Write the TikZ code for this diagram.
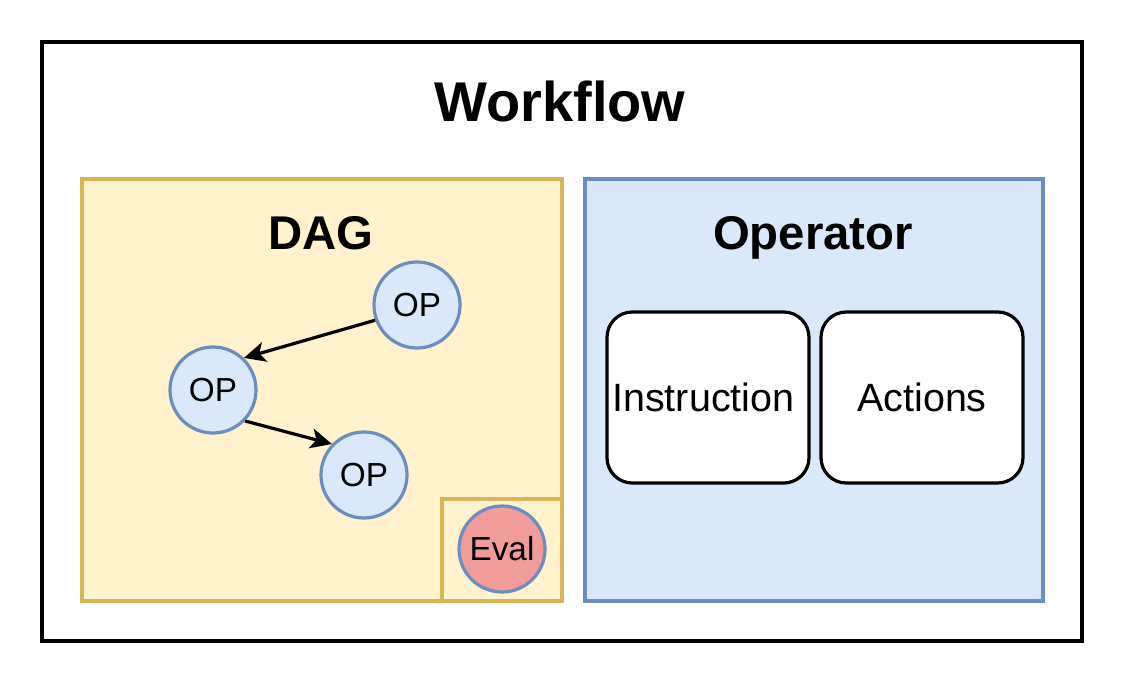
\documentclass[tikz,border=0pt]{standalone}
\usepackage{fontspec}
\setmainfont{Liberation Sans}
\usetikzlibrary{arrows.meta}
\definecolor{dagfill}{HTML}{FFF2CC}
\definecolor{dagline}{HTML}{D6B656}
\definecolor{opfill}{HTML}{DAE8FC}
\definecolor{opline}{HTML}{6C8EBF}
\definecolor{evalfill}{HTML}{F19C99}
\tikzset{
  outerbox/.style={draw=black, line width=3pt, fill=white, inner sep=0pt},
  dagbox/.style={draw=dagline, line width=2.4pt, fill=dagfill, inner sep=0pt},
  operbox/.style={draw=opline, line width=2.4pt, fill=opfill, inner sep=0pt},
  partbox/.style={draw=black, line width=2.4pt, fill=white, rounded corners=19pt, minimum width=151.5pt, minimum height=128.25pt, inner sep=0pt, font=\fontsize{29.6}{34}\selectfont},
  opnode/.style={circle, draw=opline, line width=2.4pt, fill=opfill, minimum size=64.5pt, inner sep=0pt, font=\fontsize{25}{29}\selectfont},
  evalnode/.style={opnode, fill=evalfill},
  title/.style={anchor=base, inner sep=0pt, font=\bfseries\fontsize{35.5}{40}\selectfont},
  flow/.style={line width=2.4pt, -{Stealth[length=16pt,width=15pt,inset=4pt]}}
}
\begin{document}
\begin{tikzpicture}[x=0.75pt,y=-0.75pt]
\useasboundingbox[fill=white] (0,0) rectangle (1124,684);
\node[outerbox, minimum width=780pt, minimum height=449.25pt] (wf) at (562,341.5) {};
\node[title, font=\bfseries\fontsize{42}{48}\selectfont] (wft) at (560,122) {Workflow};
\node[dagbox, minimum width=360pt, minimum height=316.5pt] (dag) at (322,390) {};
\node[dagbox, minimum width=90pt, minimum height=76.5pt] (evb) at (502,550) {};
\node[operbox, minimum width=343.5pt, minimum height=316.5pt] (oper) at (814,390) {};
\node[title] (dagt) at (321,250) {DAG};
\node[title] (opert) at (813,250) {Operator};
\node[opnode] (op1) at (417,305) {OP};
\node[opnode] (op2) at (213,390) {OP};
\node[opnode] (op3) at (364,475) {OP};
\node[evalnode] (ev) at (502,549) {Eval};
\node[partbox] (ins) at (708,397.5) {\hspace*{-7pt}Instruction};
\node[partbox] (act) at (922,397.5) {Actions};
\draw[flow] (op1.200) -- (op2.46);
\draw[flow] (op2.316) -- (op3.136);
\end{tikzpicture}
\end{document}
